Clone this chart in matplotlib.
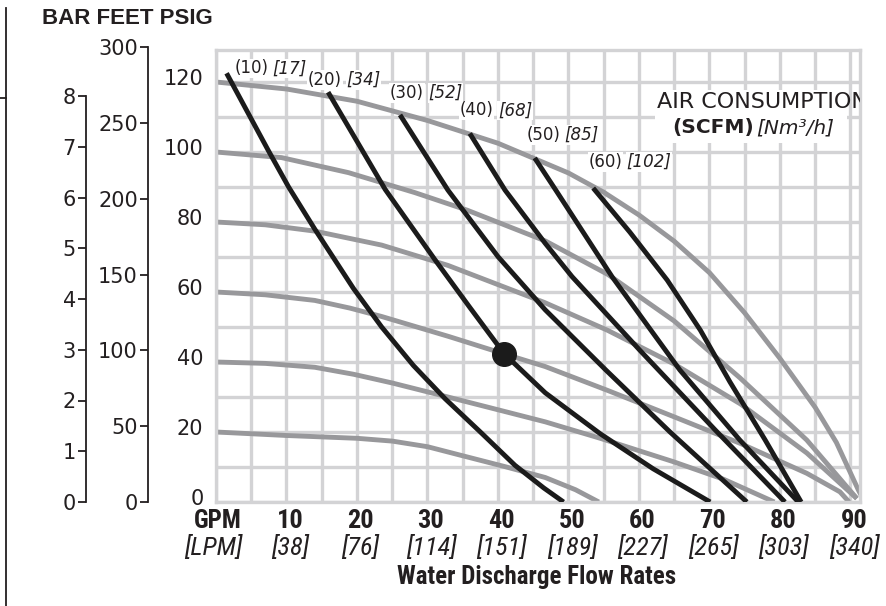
import matplotlib
matplotlib.use("Agg")
import matplotlib.pyplot as plt
from matplotlib import font_manager
from matplotlib.lines import Line2D
from matplotlib.patches import Rectangle

# ---- data ----
gpm_ticks = [10, 20, 30, 40, 50, 60, 70, 80, 90]
lpm_ticks = [38, 76, 114, 151, 189, 227, 265, 303, 340]
psig_ticks = [0, 20, 40, 60, 80, 100, 120]
feet_ticks = [0, 50, 100, 150, 200, 250, 300]
bar_ticks = [0, 1, 2, 3, 4, 5, 6, 7, 8]

# discharge pressure curves (gray) - flow GPM / head PSIG
p120_gpm = [0, 10, 20, 30, 40, 50, 55, 60, 65, 70, 75, 80, 85, 88, 91.1, 92]
p120_psi = [120, 118, 114.5, 109, 102.5, 94, 88.5, 82, 74.5, 65.5, 54, 41, 27, 17, 3.5, 0]
p100_gpm = [0, 9.3, 18.8, 28.2, 35.6, 46.7, 55.6, 65, 74.3, 83.8, 90.9]
p100_psi = [100, 98.4, 94.1, 88.4, 83.4, 74.6, 65, 51.7, 35.5, 17.7, 1.0]
p80_gpm = [0, 7, 14, 23.5, 32.9, 46.6, 55.5, 65, 74.4, 83.8, 90.9]
p80_psi = [80, 79.2, 77.4, 73.4, 67.6, 57, 49.1, 39.4, 28, 14, 1.0]
p60_gpm = [0, 7, 14, 19, 23.5, 28, 33, 40.9, 46.7, 55.4, 64.9, 74.3, 83.8, 88.5, 89.8]
p60_psi = [60, 59.2, 57.6, 55.4, 53, 50.3, 47.3, 42.3, 38.7, 32, 24.4, 16.8, 8.2, 2.9, 0]
p40_gpm = [0, 7, 14, 19.5, 25, 32.5, 40.1, 46.7, 54.5, 64.9, 72, 79.2]
p40_psi = [40, 39.6, 38.5, 36.5, 34, 30.2, 26.3, 22.9, 18.2, 11.5, 6.5, 0]
p20_gpm = [0, 10, 20, 25, 30, 35, 41, 46.7, 51, 54.3]
p20_psi = [20, 19, 18.2, 17.4, 15.8, 13.2, 10.1, 7.0, 3.5, 0]

# air consumption curves (black)
scfm = [10, 20, 30, 40, 50, 60]
nm3h = [17, 34, 52, 68, 85, 102]
a10_gpm = [1.5, 7.4, 10.3, 14, 19.5, 23.5, 28, 32.5, 37.5, 42.4, 46.5, 49.3]
a10_psi = [122.5, 100.5, 90, 78, 61, 50, 39, 29.5, 20, 10.5, 4, 0]
a20_gpm = [15.9, 24.0, 31.1, 36, 40.9, 46.7, 54.5, 62, 70.1]
a20_psi = [117.1, 89.3, 69.1, 55.6, 42.3, 31.2, 19.5, 9.5, 0]
a30_gpm = [26.1, 32.9, 40.0, 46.7, 55.3, 64.4, 75.3]
a30_psi = [110.6, 89.1, 70.1, 54.9, 37.7, 20, 0]
a40_gpm = [36.0, 41.0, 46.7, 50.5, 60.1, 70.8, 80.7]
a40_psi = [105.3, 89.1, 73.9, 64.4, 43.4, 20.6, 0]
a50_gpm = [45.2, 48.2, 56.2, 65.8, 74.3, 82.6]
a50_psi = [98.3, 89.1, 64.3, 37.7, 17.7, 0]
a60_gpm = [53.5, 58.7, 64.0, 68.7, 72.9, 77.9, 83.0]
a60_psi = [89.7, 77.1, 63.4, 49.1, 34.3, 17.7, 0]

# selected operating point
point_gpm = 40.9
point_psi = 42.3

FT_PER_PSI = 2.31
PSI_PER_BAR = 14.5

gray_curves = [(p120_gpm, p120_psi), (p100_gpm, p100_psi), (p80_gpm, p80_psi),
               (p60_gpm, p60_psi), (p40_gpm, p40_psi), (p20_gpm, p20_psi)]
black_curves = [(a10_gpm, a10_psi), (a20_gpm, a20_psi), (a30_gpm, a30_psi),
                (a40_gpm, a40_psi), (a50_gpm, a50_psi), (a60_gpm, a60_psi)]
# label offsets (pixels) from the start of each air curve
label_off = [(8, 5), (-20, 12), (-10, 22), (-10, 23), (-8, 23), (-5, 26)]

INK = "#231f20"
GRID = "#d3d3d5"
GRAY = "#98989b"
ARIAL = ['Liberation Sans', 'DejaVu Sans']

# the flow labels are set in a condensed face in the original
installed = {f.name for f in font_manager.fontManager.ttflist}
narrow = None
for cand in ['Liberation Sans Narrow', 'Roboto Condensed', 'Open Sans Condensed',
             'Noto Sans Condensed', 'DejaVu Sans Condensed']:
    if cand in installed:
        narrow = cand
        break
if narrow:
    XFONT = [narrow, 'Liberation Sans']
    xsize, tsize = 19, 18
else:
    XFONT = ARIAL
    xsize, tsize = 17, 16

W, H = 887, 606
fig = plt.figure(figsize=(W / 100, H / 100), dpi=100)
plt.rcParams['font.family'] = ['DejaVu Sans']

# main plot: x 216..860 px, y 50..502 px
L, R, T, B = 216, 860, 50, 502
ax = fig.add_axes([L / W, (H - B) / H, (R - L) / W, (B - T) / H])
ax.set_xlim(0, (R - L) / 7.05)
ax.set_ylim(0, (B - T) / 3.5)

ax.set_xticks(range(0, 95, 5))
ax.set_yticks(range(0, 130, 10))
ax.grid(True, color=GRID, lw=2.4, zorder=0)
ax.set_axisbelow(True)
for s in ax.spines.values():
    s.set_color(GRID)
    s.set_linewidth(2.4)
ax.tick_params(length=0, labelbottom=False, labelleft=False)

for gx, gy in gray_curves:
    ax.plot(gx, gy, color=GRAY, lw=3.5, solid_capstyle='butt', solid_joinstyle='round', zorder=2)
for bx, by in black_curves:
    ax.plot(bx, by, color="#1b1b1b", lw=3.5, solid_capstyle='butt', solid_joinstyle='round', zorder=3)
ax.plot([point_gpm], [point_psi], 'o', color="#1b1b1b", ms=17, zorder=4)

# psig labels
for v in psig_ticks:
    ax.annotate(str(v), xy=(0, v), xycoords=('axes fraction', 'data'),
                xytext=(-9, 2), textcoords='offset points', ha='right', va='center',
                fontsize=15, color=INK)

# air consumption labels
for i, (bx, by) in enumerate(black_curves):
    dx, dy = label_off[i]
    t1 = ax.annotate("(%d)" % scfm[i], xy=(bx[0], by[0]), xytext=(dx * 0.72, dy * 0.72),
                     textcoords='offset points', ha='left', va='center', fontsize=12,
                     color=INK, zorder=5,
                     bbox=dict(facecolor='white', edgecolor='none', pad=0.5))
    ax.annotate("[%d]" % nm3h[i], xy=(1, 0.5), xycoords=t1, xytext=(3, 0),
                textcoords='offset points', ha='left', va='center', fontsize=12,
                style='italic', color=INK, zorder=5,
                bbox=dict(facecolor='white', edgecolor='none', pad=0.5))

# legend box "AIR CONSUMPTION"
ax.add_patch(Rectangle(((655 - L) / 7.05, (B - 143) / 3.5), 192 / 7.05, 53 / 3.5,
                       facecolor='white', edgecolor='none', zorder=5))
ax.text((657 - L) / 7.05, (B - 102) / 3.5, "AIR CONSUMPTION", fontsize=16, color=INK,
        ha='left', va='center', zorder=6, clip_on=True)
tb = ax.text((672 - L) / 7.05, (B - 128) / 3.5, "(SCFM)", fontsize=14.5, fontweight='bold',
             color=INK, ha='left', va='center', zorder=6)
ax.annotate("[Nm³/h]", xy=(1, 0.5), xycoords=tb, xytext=(2, 0), textcoords='offset points',
            ha='left', va='center', fontsize=14.5, style='italic', color=INK, zorder=6)

# flow axis labels
ax.annotate("GPM", xy=(0, 0), xycoords=('data', 'axes fraction'), xytext=(1, -14),
            textcoords='offset points', ha='center', va='center', fontsize=xsize - 1,
            fontweight='bold', family=XFONT, color=INK, annotation_clip=False)
ax.annotate("[LPM]", xy=(0, 0), xycoords=('data', 'axes fraction'), xytext=(-2, -33),
            textcoords='offset points', ha='center', va='center', fontsize=xsize,
            style='italic', family=XFONT, color=INK, annotation_clip=False)
for g, lp in zip(gpm_ticks, lpm_ticks):
    ax.annotate(str(g), xy=(g, 0), xycoords=('data', 'axes fraction'), xytext=(2.5, -14),
                textcoords='offset points', ha='center', va='center', fontsize=xsize,
                fontweight='bold', family=XFONT, color=INK, annotation_clip=False)
    ax.annotate("[%d]" % lp, xy=(g, 0), xycoords=('data', 'axes fraction'), xytext=(2.5, -33),
                textcoords='offset points', ha='center', va='center', fontsize=xsize,
                style='italic', family=XFONT, color=INK, annotation_clip=False)
fig.text(537 / W, 1 - 577 / H, "Water Discharge Flow Rates", ha='center', va='center',
         fontsize=tsize, fontweight='bold', family=XFONT, color=INK)


# secondary pressure scales (feet, bar)
def side_scale(xpix, scale, top_val, ticks):
    top = 40
    a = fig.add_axes([xpix / W, (H - B) / H, 0.0001, (B - top) / H])
    a.set_ylim(0, (B - top) / 3.5 * scale)
    a.patch.set_visible(False)
    for k in ['right', 'top', 'bottom']:
        a.spines[k].set_visible(False)
    a.spines['left'].set_bounds(0, top_val)
    a.spines['left'].set_color(INK)
    a.spines['left'].set_linewidth(1.3)
    a.set_xticks([])
    a.set_yticks(ticks)
    a.tick_params(axis='y', length=5.8, width=1.3, color=INK, labelsize=15,
                  labelcolor=INK, pad=1.5)
    return a


side_scale(148, FT_PER_PSI, 300, feet_ticks)
side_scale(86, 1 / PSI_PER_BAR, 8, bar_ticks)

fig.text(42 / W, 1 - 18 / H, "BAR FEET PSIG", ha='left', va='center', fontsize=16,
         fontweight='bold', family=ARIAL, color=INK)

# stray rule at far left
fig.add_artist(Line2D([6 / W, 6 / W], [1 - 8 / H, 0], transform=fig.transFigure,
                      color=INK, lw=1.3))
fig.add_artist(Line2D([0, 6 / W], [1 - 98 / H, 1 - 98 / H], transform=fig.transFigure,
                      color=INK, lw=1.3))

fig.savefig("out.png", dpi=100)
